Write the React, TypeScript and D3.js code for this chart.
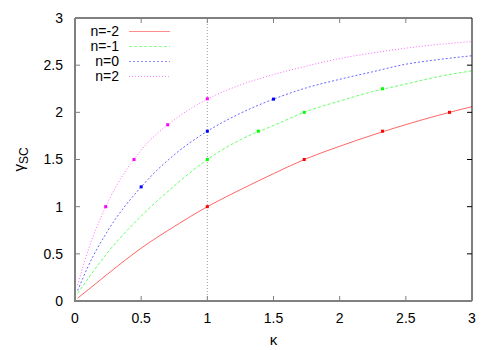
import * as d3 from "d3"
import { useEffect, useRef } from "react"

// kappa grid the curves were read at
const kappa = [0.02, 0.1, 0.25, 0.5, 0.75, 1, 1.25, 1.5, 1.75, 2, 2.25, 2.5, 2.75, 3]

const gammaNm2 = [0.03, 0.12, 0.29, 0.56, 0.79, 1.0, 1.18, 1.35, 1.51, 1.64, 1.76, 1.87, 1.97, 2.06]
const gammaNm1 = [0.08, 0.24, 0.52, 0.9, 1.22, 1.5, 1.71, 1.86, 2.01, 2.12, 2.22, 2.3, 2.38, 2.44]
const gammaN0 = [0.11, 0.37, 0.75, 1.21, 1.55, 1.8, 1.99, 2.14, 2.26, 2.35, 2.43, 2.51, 2.56, 2.6]
const gammaN2 = [0.17, 0.54, 1.05, 1.6, 1.92, 2.14, 2.29, 2.4, 2.49, 2.57, 2.63, 2.68, 2.72, 2.75]

// marked points
const dotsNm2: [number, number][] = [[1, 1.0], [1.732, 1.5], [2.324, 1.8], [2.83, 2.0]]
const dotsNm1: [number, number][] = [[1, 1.5], [1.385, 1.8], [1.732, 2.0], [2.324, 2.25]]
const dotsN0: [number, number][] = [[0.5, 1.21], [1, 1.8], [1.5, 2.14]]
const dotsN2: [number, number][] = [[0.232, 1.0], [0.446, 1.5], [0.7, 1.868], [1, 2.144]]

const seriesLabels = ["n=-2", "n=-1", "n=0", "n=2"]
const xTicks = [0, 0.5, 1, 1.5, 2, 2.5, 3]
const yTicks = [0, 0.5, 1, 1.5, 2, 2.5, 3]

export default function App() {
    const svgRef = useRef<SVGSVGElement>(null)

    useEffect(() => {
        const width = 500
        const height = 350
        const marginTop = 18
        const marginRight = 28
        const marginBottom = 49
        const marginLeft = 75

        const font = "'Liberation Sans', Arial, sans-serif"

        const xScale = d3.scaleLinear([0, 3], [marginLeft, width - marginRight])
        const yScale = d3.scaleLinear([0, 3], [height - marginBottom, marginTop])

        if (svgRef.current !== null) {
            svgRef.current.innerHTML = ""
        }

        const svg = d3.select(svgRef.current)
            .attr("width", width)
            .attr("height", height)
            .attr("viewBox", [0, 0, width, height])
            .style("font-family", font)

        const series = [
            { label: seriesLabels[0], values: gammaNm2, dots: dotsNm2, color: "#ff0000", dash: null },
            { label: seriesLabels[1], values: gammaNm1, dots: dotsNm1, color: "#00ff00", dash: "3,2" },
            { label: seriesLabels[2], values: gammaN0, dots: dotsN0, color: "#0000ff", dash: "2,2" },
            { label: seriesLabels[3], values: gammaN2, dots: dotsN2, color: "#ff00ff", dash: "1,2" },
        ]

        // dotted guide at kappa = 1
        svg.append("line")
            .attr("x1", xScale(1)).attr("x2", xScale(1))
            .attr("y1", yScale(0)).attr("y2", yScale(3))
            .attr("stroke", "#a0a0a0")
            .attr("stroke-width", 1)
            .attr("stroke-dasharray", "1,2")

        const line = d3.line<number>()
            .x((_, i) => xScale(kappa[i]))
            .y(v => yScale(v))
            .curve(d3.curveMonotoneX)

        series.forEach(s => {
            svg.append("path")
                .attr("d", line(s.values))
                .attr("fill", "none")
                .attr("stroke", s.color)
                .attr("stroke-opacity", 0.6)
                .attr("stroke-width", 1)
                .attr("stroke-dasharray", s.dash)

            svg.append("g")
                .attr("fill", s.color)
                .selectAll()
                .data(s.dots)
                .join("rect")
                    .attr("x", d => xScale(d[0]) - 1.5)
                    .attr("y", d => yScale(d[1]) - 1.5)
                    .attr("width", 3)
                    .attr("height", 3)
        })

        // frame: top and right black, left and bottom grey
        const x0 = xScale(0), x1 = xScale(3), y0 = yScale(0), y1 = yScale(3)
        svg.append("line").attr("x1", x0).attr("x2", x1).attr("y1", y1).attr("y2", y1)
            .attr("stroke", "#000").attr("stroke-width", 1)
        svg.append("line").attr("x1", x1).attr("x2", x1).attr("y1", y1).attr("y2", y0)
            .attr("stroke", "#000").attr("stroke-width", 1)
        svg.append("line").attr("x1", x0).attr("x2", x0).attr("y1", y1).attr("y2", y0 + 1)
            .attr("stroke", "#808080").attr("stroke-width", 2)
        svg.append("line").attr("x1", x0 - 1).attr("x2", x1).attr("y1", y0).attr("y2", y0)
            .attr("stroke", "#808080").attr("stroke-width", 2)

        const tickLen = 5

        // y ticks, left grey and right black
        svg.append("g")
            .selectAll()
            .data(yTicks.slice(1, -1))
            .join("line")
                .attr("x1", x0).attr("x2", x0 + tickLen)
                .attr("y1", d => yScale(d)).attr("y2", d => yScale(d))
                .attr("stroke", "#808080").attr("stroke-width", 1)
        svg.append("g")
            .selectAll()
            .data(yTicks.slice(1, -1))
            .join("line")
                .attr("x1", x1).attr("x2", x1 - tickLen)
                .attr("y1", d => yScale(d)).attr("y2", d => yScale(d))
                .attr("stroke", "#000").attr("stroke-width", 1)

        // x ticks, bottom and top
        svg.append("g")
            .selectAll()
            .data(xTicks.slice(1, -1))
            .join("line")
                .attr("x1", d => xScale(d)).attr("x2", d => xScale(d))
                .attr("y1", y0).attr("y2", y0 - tickLen)
                .attr("stroke", "#808080").attr("stroke-width", 1)
        svg.append("g")
            .selectAll()
            .data(xTicks.slice(1, -1))
            .join("line")
                .attr("x1", d => xScale(d)).attr("x2", d => xScale(d))
                .attr("y1", y1).attr("y2", y1 + tickLen)
                .attr("stroke", "#808080").attr("stroke-width", 1)

        // tick labels
        svg.append("g")
            .attr("font-size", 14)
            .attr("text-anchor", "end")
            .selectAll()
            .data(yTicks)
            .join("text")
                .attr("x", x0 - 12)
                .attr("y", d => yScale(d))
                .attr("dy", "0.35em")
                .text(d => String(d))

        svg.append("g")
            .attr("font-size", 14)
            .attr("text-anchor", "middle")
            .selectAll()
            .data(xTicks)
            .join("text")
                .attr("x", d => xScale(d))
                .attr("y", y0 + 22)
                .text(d => String(d))

        // axis titles
        svg.append("text")
            .attr("x", xScale(1.5))
            .attr("y", y0 + 44)
            .attr("text-anchor", "middle")
            .attr("font-size", 15)
            .text("κ")

        const yTitle = svg.append("text")
            .attr("transform", `translate(24, ${(y0 + y1) / 2}) rotate(-90)`)
            .attr("text-anchor", "middle")
            .attr("font-size", 15)
        yTitle.append("tspan").text("γ")
        yTitle.append("tspan").attr("font-size", 12).attr("dy", 4).text("SC")

        // legend
        const legend = svg.append("g")
        series.forEach((s, i) => {
            const ly = 31 + i * 15
            legend.append("text")
                .attr("x", 119)
                .attr("y", ly)
                .attr("dy", "0.35em")
                .attr("text-anchor", "end")
                .attr("font-size", 14)
                .text(s.label)
            legend.append("line")
                .attr("x1", 129).attr("x2", 170)
                .attr("y1", ly + 0.5).attr("y2", ly + 0.5)
                .attr("stroke", s.color)
                .attr("stroke-opacity", 0.45)
                .attr("stroke-width", 1)
                .attr("stroke-dasharray", s.dash)
        })
    }, [])

    return <>
        <svg ref={svgRef} style={{ position: "absolute", left: 0, top: 0 }}></svg>
    </>
}
